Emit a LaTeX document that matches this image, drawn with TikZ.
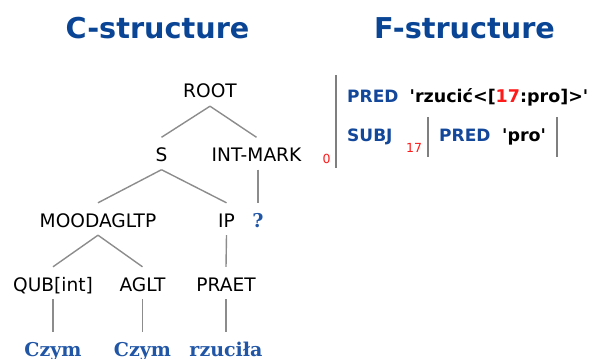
\documentclass[tikz,border=0pt]{standalone}
\usepackage{fontspec}
\setmainfont{DejaVu Sans}
\newfontfamily\wordfont{DejaVu Serif}
\definecolor{titleblue}{HTML}{0A4595}
\definecolor{labblue}{HTML}{12479A}
\definecolor{wordblue}{HTML}{2156A6}
\definecolor{linegray}{HTML}{8C8C8C}
\definecolor{bargray}{HTML}{7F7F7F}
\definecolor{idred}{HTML}{FF1A1A}
\newcommand{\sq}{\textquotesingle}
\begin{document}
\begin{tikzpicture}[x=1pt,y=-1pt,
  tl/.style={font=\fontsize{18.6}{20}\selectfont, text height=16pt, text depth=0pt, inner xsep=0pt, inner ysep=8pt, anchor=base},
  wd/.style={font=\wordfont\bfseries\fontsize{19}{21}\selectfont, text=wordblue, text height=16pt, text depth=0pt, inner xsep=0pt, inner ysep=8pt, anchor=base},
  ttl/.style={font=\bfseries\fontsize{28.7}{30}\selectfont, text=titleblue, inner sep=0pt, anchor=base},
  att/.style={font=\bfseries\fontsize{17}{19}\selectfont, text=labblue, inner sep=0pt, anchor=base west},
  val/.style={font=\bfseries\fontsize{17.5}{19}\selectfont, inner sep=0pt, anchor=base west},
  idx/.style={font=\fontsize{12.5}{13}\selectfont, text=idred, inner sep=0pt, anchor=base west},
  edge/.style={draw=linegray, line width=1.4pt},
  bar/.style={draw=bargray, line width=2pt}]
\useasboundingbox (0,0) rectangle (601,358);
% titles
\node[ttl] (ct) at (157.5,38.5) {C-structure};
\node[ttl] (ft) at (464.5,38.5) {F-structure};
% tree nodes
\node[tl] (root) at (210,98) {ROOT};
\node[tl] (s) at (161.5,161.5) {S};
\node[tl] (im) at (256.5,161.5) {INT-MARK};
\node[tl] (mood) at (98,227) {MOODAGLTP};
\node[tl] (ip) at (226.5,227) {IP};
\node[wd] (q) at (258,227) {?};
\node[tl] (qub) at (53,291) {QUB[int]};
\node[tl] (aglt) at (142.5,291) {AGLT};
\node[tl] (praet) at (226,291) {PRAET};
\node[wd] (w1) at (53,356) {Czym};
\node[wd] (w2) at (142.5,356) {Czym};
\node[wd] (w3) at (226,356) {rzuciła};
% edges
\draw[edge] (root.south) -- (s.north);
\draw[edge] (root.south) -- (im.north);
\draw[edge] (s.south) -- (mood.north);
\draw[edge] (s.south) -- (ip.north);
\draw[edge] (q.north |- im.south) -- (q.north);
\draw[edge] (mood.south) -- (qub.north);
\draw[edge] (mood.south) -- (aglt.north);
\draw[edge] (ip.south) -- (praet.north);
\draw[edge] (qub.south) -- (w1.north);
\draw[edge] (aglt.south) -- (w2.north);
\draw[edge] (praet.south) -- (w3.north);
% f-structure
\node[idx] (i0) at (322.5,164) {0};
\draw[bar] (336,75) -- (336,168);
\node[att] (pred) at (347,103) {PRED};
\node[val] (pv) at (409.5,103) {\sq rzucić<[\textcolor{idred}{17}:pro]>\sq};
\node[att] (subj) at (347,142) {SUBJ};
\node[idx] (i17) at (406,153) {17};
\draw[bar] (428,117) -- (428,157);
\node[att] (pred2) at (439,142) {PRED};
\node[val] (pro) at (502,142) {\sq pro\sq};
\draw[bar] (557,117) -- (557,157);
\end{tikzpicture}
\end{document}
